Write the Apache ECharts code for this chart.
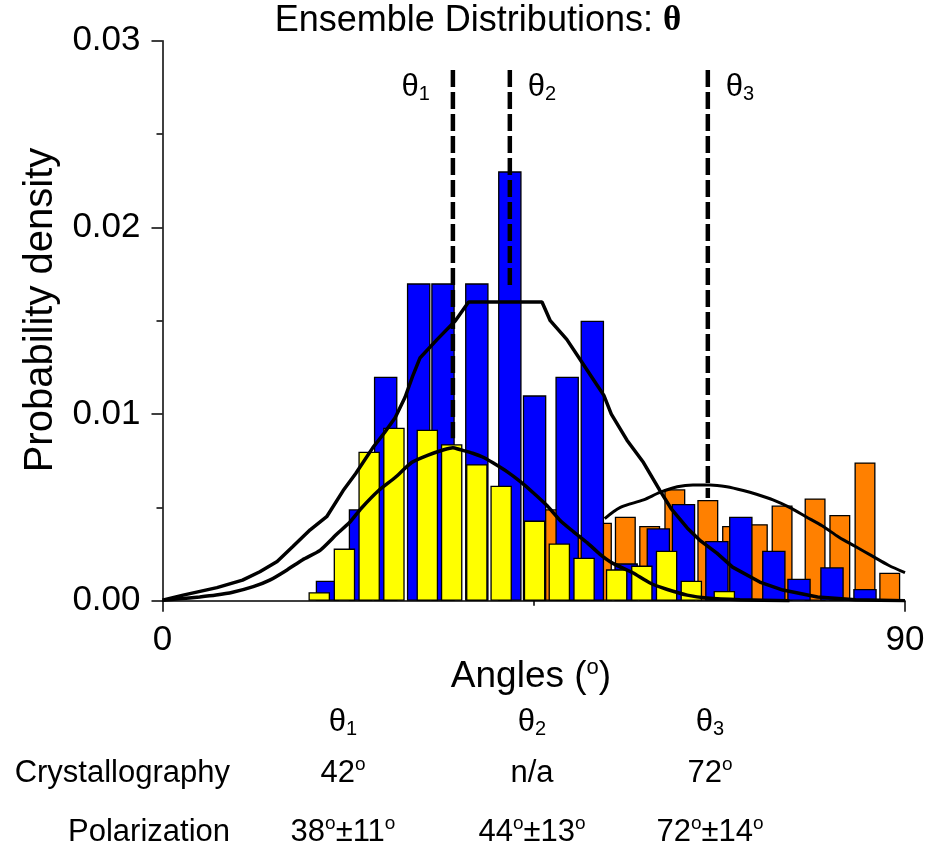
<!DOCTYPE html>
<html>
<head>
<meta charset="utf-8">
<script src="https://cdn.jsdelivr.net/npm/echarts@6/dist/echarts.min.js"></script>
<style>
  html, body { margin: 0; padding: 0; background: #fff; }
  #chart { width: 932px; height: 852px; }
</style>
</head>
<body>
<div id="chart"></div>
<script>
// histogram bins: angle (deg) -> probability density
const blueAngles = [20.0, 24.0, 27.05, 31.05, 34.0, 38.1, 42.1, 45.1, 49.05, 52.1, 56.2, 60.1, 63.15, 67.2, 70.1, 74.1, 77.15, 81.15, 85.15];
const blueDensity = [0.00107, 0.0049, 0.0120, 0.0170, 0.0170, 0.0170, 0.0230, 0.0110, 0.0120, 0.0150, 0.0020, 0.00388, 0.00518, 0.0032, 0.0045, 0.00268, 0.00118, 0.00179, 0.00063];

const yellowAngles = [19.0, 22.05, 25.05, 28.05, 32.1, 35.05, 38.1, 41.05, 45.1, 48.1, 51.1, 55.05, 58.1, 61.1, 64.1, 68.1];
const yellowDensity = [0.00045, 0.00279, 0.00798, 0.00927, 0.00916, 0.00838, 0.00731, 0.00616, 0.00429, 0.00307, 0.0023, 0.00168, 0.00188, 0.00268, 0.00107, 0.00052];

const orangeAngles = [47.0, 50.1, 53.2, 56.1, 59.05, 62.1, 66.1, 69.1, 72.1, 75.1, 79.1, 82.1, 85.15, 88.15];
const orangeDensity = [0.0049, 0.0035, 0.00418, 0.0045, 0.0040, 0.00597, 0.0054, 0.0040, 0.0041, 0.0051, 0.00548, 0.00459, 0.00741, 0.0015];

// fitted distributions
const wideAngles = [0, 2.5, 6.6, 9.7, 11.8, 13.9, 15.8, 17.9, 19.9, 21.9, 23.4, 25.5, 26.9, 28.2, 29.4, 30.3, 31.2, 33.3, 35.5, 37.1, 46, 47, 49, 50.5, 52, 53.5, 54.4, 56.3, 58.3, 60.3, 61.7, 63.6, 65.1, 67.2, 69.1, 72.4, 75.2, 79.4, 84, 90];
const wideDensity = [0.00003, 0.0003, 0.0007, 0.0011, 0.00155, 0.0021, 0.0029, 0.0038, 0.0045, 0.0059, 0.0068, 0.0082, 0.009, 0.0098, 0.0109, 0.012, 0.013, 0.014, 0.015, 0.016, 0.016, 0.015, 0.014, 0.013, 0.012, 0.011, 0.010, 0.0086, 0.0074, 0.0059, 0.0049, 0.0039, 0.00325, 0.00255, 0.0018, 0.001, 0.00057, 0.0002, 0.00005, 0];

const theta1Angles = [0, 2, 4.5, 6.5, 8.5, 11, 13, 15.1, 17, 19.1, 21.2, 22.7, 24.1, 26.2, 28.2, 30.2, 32.2, 34.2, 35.2, 36, 37.6, 38.8, 40, 41.8, 43.3, 44.9, 46.6, 48.2, 49.8, 51.5, 53, 54.6, 57, 59.1, 61.2, 63.6, 66, 70, 76];
const theta1Density = [0.00003, 0.0001, 0.0002, 0.0003, 0.00045, 0.00075, 0.0011, 0.00165, 0.0022, 0.0027, 0.0036, 0.0042, 0.00495, 0.0059, 0.0066, 0.0074, 0.0078, 0.0081, 0.0082, 0.0081, 0.0079, 0.0077, 0.0074, 0.0069, 0.0064, 0.0058, 0.0051, 0.0043, 0.0037, 0.0031, 0.0025, 0.0020, 0.0015, 0.00095, 0.0006, 0.0003, 0.00014, 0.00005, 0];

const theta3Angles = [53.6, 55.5, 58.3, 60.3, 62.4, 64.3, 66.4, 68.4, 70.4, 72, 74, 76, 78, 80, 82, 84, 86, 88, 90];
const theta3Density = [0.0044, 0.0050, 0.0054, 0.0058, 0.0061, 0.0062, 0.0062, 0.0061, 0.0059, 0.0057, 0.0054, 0.0050, 0.0045, 0.0040, 0.0034, 0.0029, 0.0024, 0.0019, 0.0015];

// dashed markers
const thetaLineAngles = [35.2, 42.1, 66.1];
const thetaLineTop = 0.02843;
const thetaLineBottom = [0.0087, 0.01665, 0.0055];
const thetaNames = ['1', '2', '3'];

// table under the chart
const rowLabels = ['Crystallography', 'Polarization'];
const crystallography = ['42', 'n/a', '72'];
const polarizationMean = ['38', '44', '72'];
const polarizationSpread = ['11', '13', '14'];

const FONT = '"Liberation Sans", Arial, sans-serif';
const zip = (xs, ys) => xs.map((x, i) => [x, ys[i]]);

const rich = {
  t: { fontSize: 31, fontFamily: FONT, fill: '#000' },
  s: { fontSize: 20, fontFamily: FONT, fill: '#000', padding: [14, 0, 0, 0] },
  n: { fontSize: 31, fontFamily: FONT, fill: '#000' },
  o: { fontSize: 19, fontFamily: FONT, fill: '#000', padding: [0, 0, 16, 0] },
  an: { fontSize: 37, fontFamily: FONT, fill: '#000' },
  ao: { fontSize: 22, fontFamily: FONT, fill: '#000', padding: [0, 0, 18, 0] },
  ti: { fontSize: 36, fontFamily: FONT, fill: '#000' },
  tb: { fontSize: 35, fontFamily: '"Liberation Serif", "DejaVu Serif", serif', fontWeight: 'bold', fill: '#000' }
};

const axisBlack = { color: '#000', width: 1.5 };
function hiddenX() {
  return { type: 'value', min: 0, max: 90, show: false };
}
const curveStyle = { color: '#000', width: 3.5 };

const option = {
  animation: false,
  backgroundColor: '#fff',
  grid: { left: 162.5, right: 27, top: 40.7, bottom: 251.3 },
  xAxis: [
    {
      type: 'value', min: 0, max: 90, interval: 90,
      axisLine: { show: true, lineStyle: axisBlack },
      axisTick: { show: true, length: 11, lineStyle: axisBlack },
      minorTick: { show: true, splitNumber: 2, length: 5, lineStyle: axisBlack },
      axisLabel: { fontSize: 35, color: '#000', margin: 22, fontFamily: FONT },
      splitLine: { show: false }
    },
    hiddenX(), hiddenX(), hiddenX()
  ],
  yAxis: {
    type: 'value', min: 0, max: 0.03, interval: 0.01,
    axisLine: { show: true, lineStyle: axisBlack },
    axisTick: { show: true, length: 11, lineStyle: axisBlack },
    minorTick: { show: true, splitNumber: 2, length: 6, lineStyle: axisBlack },
    axisLabel: { fontSize: 35, color: '#000', margin: 22, fontFamily: FONT, formatter: v => v.toFixed(2) },
    splitLine: { show: false }
  },
  series: [
    {
      type: 'bar', xAxisIndex: 1, barWidth: 21, z: 2,
      data: zip(orangeAngles, orangeDensity),
      itemStyle: { color: '#FF8000', borderColor: '#000', borderWidth: 1.3 }
    },
    {
      type: 'bar', xAxisIndex: 2, barWidth: 23.5, z: 3,
      data: zip(blueAngles, blueDensity),
      itemStyle: { color: '#0000FF', borderColor: '#000', borderWidth: 1.3 }
    },
    {
      type: 'bar', xAxisIndex: 3, barWidth: 21.5, z: 4,
      data: zip(yellowAngles, yellowDensity),
      itemStyle: { color: '#FFFF00', borderColor: '#000', borderWidth: 1.3 }
    },
    {
      type: 'line', symbol: 'none', z: 5,
      data: zip(wideAngles, wideDensity),
      lineStyle: curveStyle
    },
    {
      type: 'line', symbol: 'none', z: 5, smooth: 0.2,
      data: zip(theta1Angles, theta1Density),
      lineStyle: curveStyle
    },
    {
      type: 'line', symbol: 'none', z: 5, smooth: 0.3,
      data: zip(theta3Angles, theta3Density),
      lineStyle: { color: '#000', width: 3 }
    }
  ].concat(thetaLineAngles.map((a, i) => ({
    type: 'line', symbol: 'none', z: 6,
    data: [[a, thetaLineTop], [a, thetaLineBottom[i]]],
    lineStyle: { color: '#000', width: 4.5, type: [17, 5] }
  })))
};

const chart = echarts.init(document.getElementById('chart'));
chart.setOption(option);

const graphics = [];
// title
graphics.push({
  type: 'text', x: 478, y: 21,
  style: { text: '{ti|Ensemble Distributions: }{tb|θ}', rich, align: 'center', verticalAlign: 'middle' }
});
// axis names
graphics.push({
  type: 'text', x: 531, y: 677,
  style: { text: '{an|Angles (}{ao|o}{an|)}', rich, align: 'center', verticalAlign: 'middle' }
});
graphics.push({
  type: 'text', x: 41, y: 310, rotation: Math.PI / 2,
  style: { text: 'Probability density', fontSize: 40, fontFamily: FONT, fill: '#000', align: 'center', verticalAlign: 'middle' }
});
// labels next to the dashed markers
thetaLineAngles.forEach((a, i) => {
  const p = chart.convertToPixel({ xAxisIndex: 0, yAxisIndex: 0 }, [a, thetaLineTop]);
  const left = i === 0;
  graphics.push({
    type: 'text', x: p[0] + (left ? -23 : 18), y: p[1] + 17,
    style: { text: '{t|θ}{s|' + thetaNames[i] + '}', rich, align: left ? 'right' : 'left', verticalAlign: 'middle' }
  });
});
// table
const colX = [343, 532, 710];
const rowY = [722, 773, 832];
colX.forEach((x, i) => {
  graphics.push({
    type: 'text', x: x, y: rowY[0],
    style: { text: '{t|θ}{s|' + thetaNames[i] + '}', rich, align: 'center', verticalAlign: 'middle' }
  });
  const c = crystallography[i];
  graphics.push({
    type: 'text', x: x, y: rowY[1],
    style: { text: isNaN(+c) ? '{n|' + c + '}' : '{n|' + c + '}{o|o}', rich, align: 'center', verticalAlign: 'middle' }
  });
  graphics.push({
    type: 'text', x: x, y: rowY[2],
    style: {
      text: '{n|' + polarizationMean[i] + '}{o|o}{n|±' + polarizationSpread[i] + '}{o|o}',
      rich, align: 'center', verticalAlign: 'middle'
    }
  });
});
rowLabels.forEach((t, i) => {
  graphics.push({
    type: 'text', x: 230, y: rowY[i + 1],
    style: { text: t, fontSize: 31, fontFamily: FONT, fill: '#000', align: 'right', verticalAlign: 'middle' }
  });
});

chart.setOption({ graphic: graphics });
</script>
</body>
</html>
